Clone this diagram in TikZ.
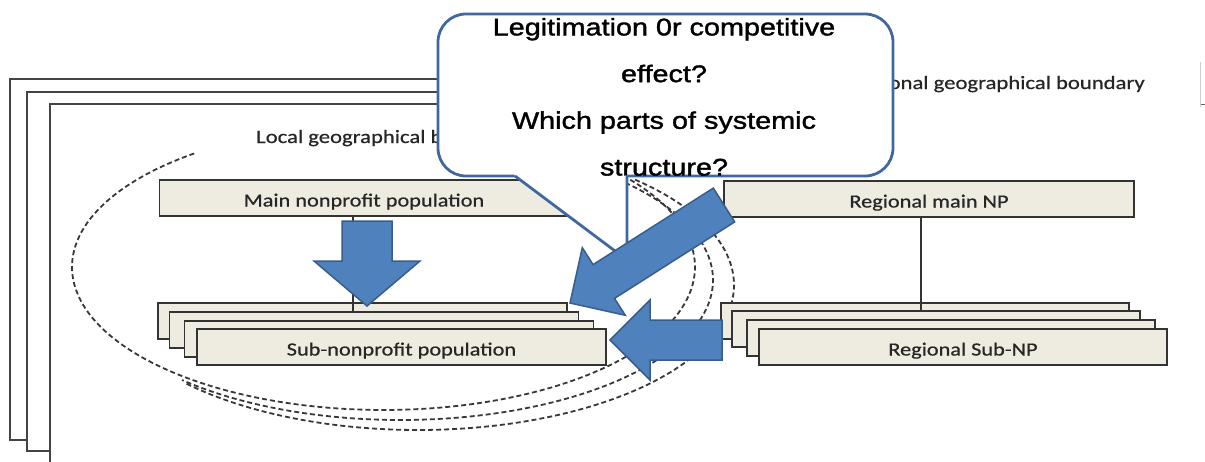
\documentclass[tikz,border=0pt]{standalone}
\usepackage{fontspec}
\setmainfont{Carlito}
\newfontfamily\boxfont[FakeStretch=1.2,FakeBold=0.6]{Carlito}
\newfontfamily\callfont[FakeStretch=1.2,FakeBold=1.5]{Liberation Sans}
\usetikzlibrary{calc}
\definecolor{boxfill}{HTML}{EEECE1}
\definecolor{boxline}{HTML}{333333}
\definecolor{arrowfill}{HTML}{4F81BD}
\definecolor{arrowline}{HTML}{385D8A}
\definecolor{calloutline}{HTML}{41689E}
\definecolor{frameline}{HTML}{444444}
\definecolor{dashline}{HTML}{383838}

\begin{document}
\begin{tikzpicture}[x=1pt,y=-1pt,
  popbox/.style={draw=boxline, fill=boxfill, line width=1.5pt,
    minimum width=409pt, minimum height=36pt, inner sep=0pt,
    text height=19pt, text depth=2pt,
    font=\boxfont\fontsize{18.6}{20}\selectfont, text=black!85},
  link/.style={draw=boxline, line width=1.3pt},
  blockarrow/.style={fill=arrowfill, draw=arrowline, line width=1.5pt, line join=miter},
  boundary/.style={draw=frameline, line width=1.6pt},
  orbit/.style={draw=dashline, line width=1.8pt, dash pattern=on 5pt off 3pt},
  frametext/.style={font=\boxfont\fontsize{18.9}{20}\selectfont, text=black!85, inner sep=0pt},
  ]
\useasboundingbox (0,0) rectangle (1205,461);
\clip (0,0) rectangle (1205,461);

% nested geographical boundaries
\draw[boundary] (460,79) -- (10,79) -- (10,440) -- (27,440);
\draw[boundary] (460,92) -- (27,92) -- (27,451) -- (50,451);
\draw[boundary] (460,104) -- (50,104) -- (50,470);
\draw[black!20, line width=0.8pt] (1200,62) -- (1200,107);
\draw[black!60, line width=1pt] (1201,104) -- (1205,104);

\node[frametext, anchor=base west] (localb) at (256,143) {Local geographical boundary};
\node[frametext, anchor=base east] (regb) at (1145,89) {Regional geographical boundary};

% dashed orbits
\draw[orbit] plot[domain=-37.6:233.2, samples=140] ({383.5+311.5*cos(\x)}, {267+143*sin(\x)});
\draw[orbit] plot[domain=-44:134.4, samples=120] ({400.6+312.4*cos(\x)}, {280+140*sin(\x)});
\draw[orbit] plot[domain=-46.6:137.5, samples=120] ({418+316*cos(\x)}, {285+145*sin(\x)});

% local populations
\node[popbox] (main) at (364,198) {Main nonprofit population};
\node[popbox] (sub1) at (362.5,321) {};
\draw[link] ([xshift=-11pt]main.south) -- ([xshift=-11pt]main.south |- sub1.south);
\node[popbox] (sub2) at (374,330) {};
\node[popbox] (sub3) at (389,339) {};
\node[popbox] (sub4) at (401.5,347) {Sub-nonprofit population};

% regional populations
\node[popbox, minimum width=410pt] (rmain) at (929,199) {Regional main NP};
\node[popbox, minimum width=408pt] (rsub1) at (925,321) {};
\draw[link] ([xshift=-8pt]rmain.south) -- ([xshift=-8pt]rmain.south |- rsub1.south);
\node[popbox, minimum width=408pt] (rsub2) at (936,329) {};
\node[popbox, minimum width=408pt] (rsub3) at (951,338) {};
\node[popbox, minimum width=408pt] (rsub4) at (963,347) {Regional Sub-NP};

% callout
\node[draw=calloutline, fill=white, line width=2.8pt, rounded corners=28pt,
  minimum width=455pt, minimum height=162pt, inner sep=0pt] (callout) at (665.5,95) {};
\coordinate (ptL) at (515,176);
\coordinate (ptR) at (627,176);
\coordinate (ptTip) at (627,260);
\fill[white] ($(ptL)+(-1,-3)$) -- ($(ptR)+(0,-3)$) -- (ptTip) -- (ptL) -- cycle;
\draw[calloutline, line width=2.8pt] (ptL) -- (ptTip) -- (ptR);

% block arrows
\draw[blockarrow] (342,221) -- (392,221) -- (392,261) -- (420,261) -- (367,306)
  -- (314,261) -- (342,261) -- cycle;
\draw[blockarrow] (713.3,188.1) -- (734.7,221.9) -- (614.5,298.4) -- (625.3,315.3)
  -- (570,303) -- (582.3,247.7) -- (593.1,264.6) -- cycle;
\draw[blockarrow] (722,320) -- (722,360) -- (650,360) -- (650,380) -- (610,340)
  -- (650,300) -- (650,320) -- cycle;

% callout question
\node[font=\callfont\fontsize{24}{46.7}\selectfont, align=center, anchor=north,
  inner sep=0pt] (question) at (664,17.8)
  {Legitimation 0r competitive\\effect?\\Which parts of systemic\\structure?};
\end{tikzpicture}
\end{document}
